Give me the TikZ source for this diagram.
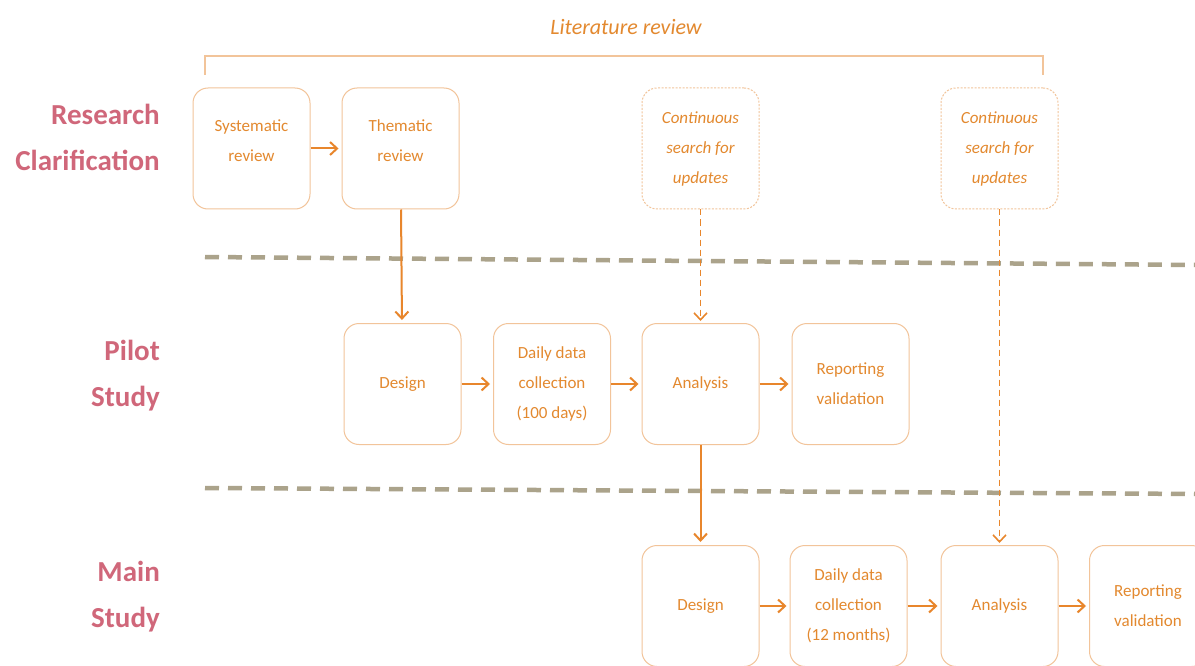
\documentclass[tikz,border=0pt]{standalone}
\usepackage{fontspec}
\setmainfont{Carlito}
\usetikzlibrary{arrows.meta}
\definecolor{txtorange}{HTML}{E3892F}
\definecolor{boxline}{HTML}{F2C49A}
\definecolor{arrorange}{HTML}{E8862C}
\definecolor{phase}{HTML}{D0677A}
\definecolor{sepline}{HTML}{ABA38B}
\begin{document}
\begin{tikzpicture}[x=1pt,y=-1pt,
  stage/.style={draw=boxline, line width=1pt, rounded corners=15pt,
    minimum width=117pt, minimum height=121pt, align=center,
    text=txtorange, font=\fontsize{17}{30}\selectfont, inner sep=2pt},
  searchbox/.style={stage, dash pattern=on 2pt off 1.5pt,
    font=\itshape\fontsize{17}{30}\selectfont},
  flow/.style={draw=arrorange, line width=2pt,
    -{Straight Barb[length=7pt,width=13pt,line width=2pt]}},
  feed/.style={draw=arrorange, line width=1.6pt, dash pattern=on 6pt off 4pt,
    -{Straight Barb[length=7pt,width=13pt,line width=1.6pt]}},
  phaselabel/.style={anchor=east, align=right, text=phase,
    font=\bfseries\fontsize{29}{46}\selectfont, inner sep=0pt},
  separator/.style={draw=sepline, line width=4.5pt, dash pattern=on 14pt off 9pt},
]
\clip (0,0) rectangle (1195,666);
\fill[white] (0,0) rectangle (1195,666);

% literature review bracket
\node[text=txtorange, font=\itshape\fontsize{22}{26}\selectfont] (lit) at (626,27) {Literature review};
\coordinate (brL) at (205,75);
\coordinate (brR) at (1043,75);
\draw[boxline, line width=1.5pt] (brL) -- (205,56) -- (1043,56) -- (brR);

% phase labels
\node[phaselabel] (rc) at (160,137) {Research\\Clarification};
\node[phaselabel] (ps) at (160,376) {Pilot\\Study};
\node[phaselabel] (ms) at (160,597) {Main\\Study};

% phase separators
\coordinate (s1a) at (205,257);
\coordinate (s1b) at (1200,265);
\coordinate (s2a) at (205,488);
\coordinate (s2b) at (1200,494);
\draw[separator] (s1a) -- (s1b);
\draw[separator] (s2a) -- (s2b);

% research clarification (review texts sit a little above centre)
\node[stage] (sys) at (251.5,148.5) {Systematic\\review\\[-15pt]\mbox{}};
\node[stage] (them) at (400.5,148.5) {Thematic\\review\\[-15pt]\mbox{}};
\node[searchbox] (cs1) at (700.5,148.5) {Continuous\\search for\\updates};
\node[searchbox] (cs2) at (999.5,148.5) {Continuous\\search for\\updates};

% pilot study
\node[stage] (pdes) at (402.5,384) {Design};
\node[stage] (pcol) at (552,384) {Daily data\\collection\\(100 days)};
\node[stage] (pana) at (700.5,384) {Analysis};
\node[stage] (prep) at (850.5,384) {Reporting\\validation};

% main study
\node[stage] (mdes) at (700.5,606) {Design};
\node[stage] (mcol) at (848.5,606) {Daily data\\collection\\(12 months)};
\node[stage] (mana) at (999.5,606) {Analysis};
\node[stage] (mrep) at (1148,606) {Reporting\\validation};

% connectors
\draw[flow, shorten >=3pt] (sys) -- (them);
\draw[flow, shorten >=3pt] (them) -- (pdes);
\draw[feed, shorten >=2pt] (cs1) -- (pana);
\draw[feed, shorten >=2pt] (cs2) -- (mana);
\draw[flow, shorten >=3pt] (pdes) -- (pcol);
\draw[flow, shorten >=3pt] (pcol) -- (pana);
\draw[flow, shorten >=3pt] (pana) -- (prep);
\draw[flow, shorten >=3pt] (pana) -- (mdes);
\draw[flow, shorten >=3pt] (mdes) -- (mcol);
\draw[flow, shorten >=3pt] (mcol) -- (mana);
\draw[flow, shorten >=3pt] (mana) -- (mrep);
\end{tikzpicture}
\end{document}
